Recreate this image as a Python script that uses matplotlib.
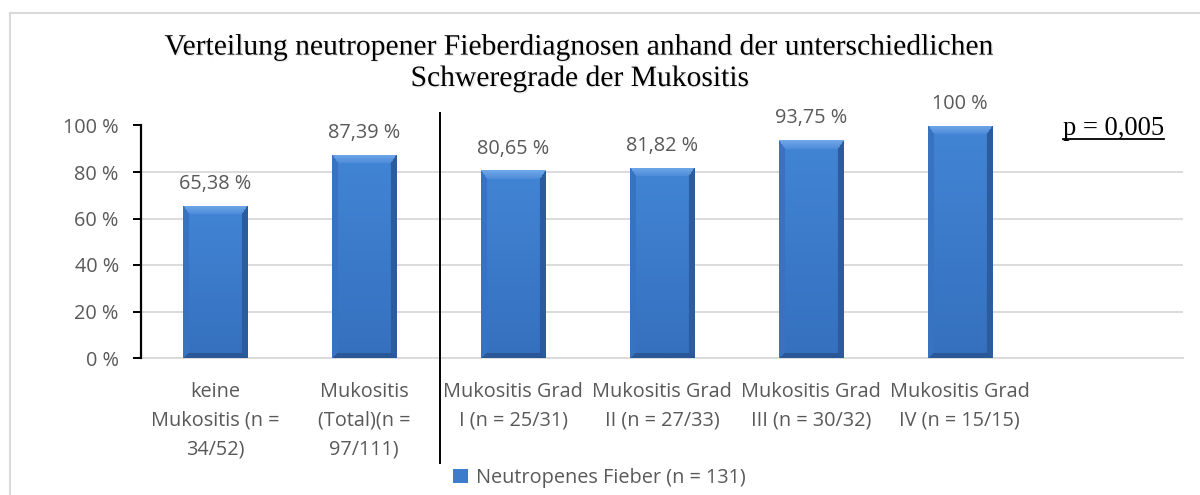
import numpy as np
import matplotlib
matplotlib.use("Agg")
import matplotlib.pyplot as plt
from matplotlib.lines import Line2D
from matplotlib.transforms import blended_transform_factory
import matplotlib.patheffects as pe

# ---------------- data ----------------
categories = [
    "keine\nMukositis (n =\n34/52)",
    "Mukositis\n(Total)(n =\n97/111)",
    "Mukositis Grad\nI (n = 25/31)",
    "Mukositis Grad\nII (n = 27/33)",
    "Mukositis Grad\nIII (n = 30/32)",
    "Mukositis Grad\nIV (n = 15/15)",
]
values = [65.38, 87.39, 80.65, 81.82, 93.75, 100.0]
value_labels = ["65,38 %", "87,39 %", "80,65 %", "81,82 %", "93,75 %", "100 %"]
yticks = [0, 20, 40, 60, 80, 100]
ytick_labels = ["0 %", "20 %", "40 %", "60 %", "80 %", "100 %"]
series_name = "Neutropenes Fieber (n = 131)"
title = ("Verteilung neutropener Fieberdiagnosen anhand der unterschiedlichen\n"
         "Schweregrade der Mukositis")
p_text = "p = 0,005"
n_slots = 7  # category slots on the axis (last one empty)

# ---------------- style ----------------
W_PX, H_PX, DPI = 1200, 495, 100
SANS = ["Open Sans", "DejaVu Sans"]
SERIF = ["Liberation Serif", "DejaVu Serif"]
GRAY_TXT = "#595959"
GRID = "#d9d9d9"
FS = 14.3

fig = plt.figure(figsize=(W_PX / DPI, H_PX / DPI), dpi=DPI)
fig.patch.set_facecolor("white")

def fx(px):
    return px / W_PX

def fy(py):
    return 1 - py / H_PX

ax = fig.add_axes([fx(141), fy(358), (1183 - 141) / W_PX, (358 - 125.5) / H_PX])

x = np.arange(len(categories))
bars = ax.bar(x, values, width=0.43, color="#3d7bcb", edgecolor="none",
              zorder=3, label=series_name)
ax.set_xlim(-0.5, n_slots - 0.5)
ax.set_ylim(0, 100)

# axes styling
for s in ("top", "right"):
    ax.spines[s].set_visible(False)
ax.spines["left"].set_color("black")
ax.spines["left"].set_linewidth(1.6)
ax.spines["left"].set_zorder(5)
ax.spines["bottom"].set_color(GRID)
ax.spines["bottom"].set_linewidth(1.3)
ax.set_yticks(yticks)
ax.set_yticklabels(ytick_labels, fontfamily=SANS, fontsize=FS, color=GRAY_TXT)
ax.set_xticks(x)
ax.set_xticklabels(categories, fontfamily=SANS, fontsize=FS, color=GRAY_TXT,
                   linespacing=1.6)
ax.tick_params(axis="y", direction="out", length=6, width=1.4, color="black", pad=10)
ax.tick_params(axis="x", length=0, pad=17)
ax.yaxis.grid(True, color=GRID, linewidth=1.3, zorder=0)
ax.set_axisbelow(True)

# bevelled bar faces (drawn inside each bar, clipped to it)
def hexrgb(h):
    h = h.lstrip("#")
    return np.array([int(h[i:i + 2], 16) / 255 for i in (0, 2, 4)])

face_top, face_bot = hexrgb("#4285d5"), hexrgb("#3570be")
c_top_a, c_top_b = hexrgb("#72a9ea"), hexrgb("#4d8cd9")
c_left = hexrgb("#3873c2")
c_right = hexrgb("#2c5c9e")
c_bot = hexrgb("#2a5896")

for rect in bars.patches:
    x0, y0 = rect.get_x(), rect.get_y()
    w, h = rect.get_width(), rect.get_height()
    (px0, py0), (px1, py1) = ax.transData.transform([(x0, y0), (x0 + w, y0 + h)])
    Wp = max(int(round(px1 - px0)), 2)
    Hp = max(int(round(py1 - py0)), 2)
    jj, ii = np.meshgrid(np.arange(Wp) + 0.5, np.arange(Hp) + 0.5)
    t = ii / Hp
    img = (face_top[None, None, :] * (1 - t[..., None]) + face_bot[None, None, :] * t[..., None])
    bt, bs, bb = 9.0, 6.0, 5.0
    d = np.stack([ii / bt, jj / bs, (Wp - jj) / bs, (Hp - ii) / bb])
    reg = np.argmin(d, axis=0)
    inb = np.min(d, axis=0) < 1
    tt = np.clip(ii / bt, 0, 1)[..., None]
    top_col = c_top_a[None, None, :] * (1 - tt) + c_top_b[None, None, :] * tt
    img = np.where((inb & (reg == 0))[..., None], top_col, img)
    img = np.where((inb & (reg == 1))[..., None], c_left[None, None, :], img)
    img = np.where((inb & (reg == 2))[..., None], c_right[None, None, :], img)
    img = np.where((inb & (reg == 3))[..., None], c_bot[None, None, :], img)
    im = ax.imshow(img, extent=[x0, x0 + w, y0, y0 + h], origin="upper",
                   aspect="auto", interpolation="bilinear", zorder=3.5)
    im.set_clip_path(rect)

ax.set_xlim(-0.5, n_slots - 0.5)
ax.set_ylim(0, 100)

# value labels
for rect, lab in zip(bars.patches, value_labels):
    ax.annotate(lab, (rect.get_x() + rect.get_width() / 2, rect.get_height()),
                xytext=(0, 12), textcoords="offset points", ha="center",
                va="baseline", fontfamily=SANS, fontsize=FS, color=GRAY_TXT,
                annotation_clip=False, zorder=6)

# separator between "total" and grades
trans = blended_transform_factory(ax.transData, fig.transFigure)
ax.add_line(Line2D([1.51, 1.51], [fy(113), fy(463)], transform=trans,
                   color="black", linewidth=1.4, clip_on=False, zorder=6))

# title (va='baseline' anchors the last line)
fig.text(fx(580.5), fy(86), title, ha="center", va="baseline",
         multialignment="center", fontfamily=SERIF, fontsize=21.3,
         color="black", linespacing=1.27,
         path_effects=[pe.withSimplePatchShadow(offset=(1.0, -1.0),
                                                shadow_rgbFace="#999999",
                                                alpha=0.2)])

# p-value, underlined
pt = fig.text(fx(1063), fy(135), p_text, ha="left", va="baseline",
              fontfamily=SERIF, fontsize=19.2, color="black")
fig.canvas.draw()
bb = pt.get_window_extent(renderer=fig.canvas.get_renderer())
fig.add_artist(Line2D([bb.x0 / W_PX, bb.x1 / W_PX], [fy(138.5), fy(138.5)],
                      transform=fig.transFigure, color="black", linewidth=1.3))

# legend
leg = fig.legend(handles=[bars], labels=[series_name], loc="center left",
                 bbox_to_anchor=(fx(453), fy(478)), frameon=False,
                 borderpad=0, borderaxespad=0, handlelength=0.75,
                 handleheight=0.7, handletextpad=0.4,
                 prop={"family": SANS, "size": FS})
for txt in leg.get_texts():
    txt.set_color(GRAY_TXT)

# chart frame
fig.add_artist(Line2D([fx(10), 1.0], [fy(13), fy(13)], transform=fig.transFigure,
                      color=GRID, linewidth=1.5))
fig.add_artist(Line2D([fx(10), fx(10)], [fy(13), 0.0], transform=fig.transFigure,
                      color=GRID, linewidth=1.5))

fig.savefig("out.png", dpi=DPI, facecolor="white")
